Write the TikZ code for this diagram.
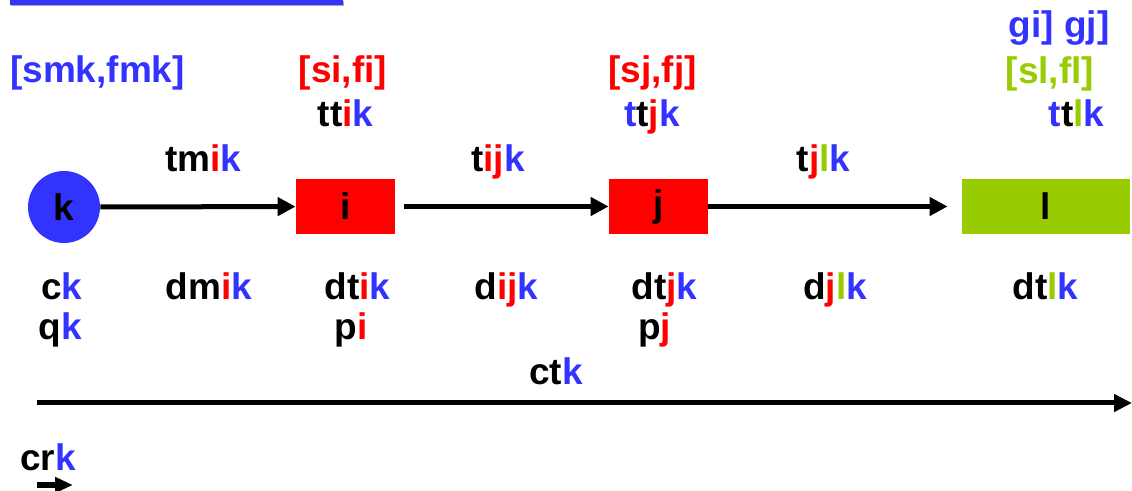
\documentclass[tikz,border=0pt]{standalone}
\usepackage{fontspec}
\setmainfont{Liberation Sans}
\usetikzlibrary{arrows.meta}
\definecolor{kb}{RGB}{51,51,255}
\definecolor{ir}{RGB}{255,0,0}
\definecolor{lg}{RGB}{153,204,0}
\definecolor{shd}{RGB}{170,170,170}
\newcommand\cB[1]{\textcolor{kb}{#1}}
\newcommand\cR[1]{\textcolor{ir}{#1}}
\newcommand\cG[1]{\textcolor{lg}{#1}}
\tikzset{
  lbl/.style={inner sep=0pt, anchor=base, font=\fontsize{18.5}{20}\selectfont\bfseries},
  actbox/.style={draw=none, minimum width=49.5pt, minimum height=27.5pt, inner sep=0pt, font=\fontsize{18.5}{20}\selectfont\bfseries},
  conn/.style={line width=2.5pt, -{Triangle[length=9pt,width=9pt]}},
}
\begin{document}
\begin{tikzpicture}[x=0.5pt,y=-0.5pt]
\useasboundingbox (0,0) rectangle (1132,491);
% top underline
\fill[shd] (11,1) rectangle (344,6);
\fill[kb] (10,0) rectangle (343,5);
% nodes
\node[circle, fill=kb, minimum size=36pt, inner sep=0pt, font=\fontsize{18.5}{20}\selectfont\bfseries] (k) at (64,207) {k};
\node[actbox, fill=ir] (i) at (345.5,206.5) {i};
\node[actbox, fill=ir] (j) at (658.5,206.5) {j};
\node[actbox, fill=lg, minimum width=84pt] (l) at (1046,206.5) {l};
% connectors
\draw[conn] (k) -- (i);
\draw[conn, shorten <=4.5pt] (i) -- (j);
\draw[conn, shorten >=7pt] (j) -- (l);
% labels above
\node[lbl, text=kb] (smk) at (97.5,83) {[smk,fmk]};
\node[lbl, text=ir] (sifi) at (343,83) {[si,fi]};
\node[lbl, text=ir] (sjfj) at (652.5,83) {[sj,fj]};
\node[lbl, text=lg] (slfl) at (1050,84) {[sl,fl]};
\node[lbl, text=kb] (gigj) at (1059,38) {gi] gj]};
\node[lbl] (ttik) at (345.5,127) {tt\cR{i}\cB{k}};
\node[lbl] (ttjk) at (652,127) {\cB{t}t\cR{j}\cB{k}};
\node[lbl] (ttlk) at (1076.5,127) {\cB{t}t\cG{l}\cB{k}};
\node[lbl] (tmik) at (203.5,172) {tm\cR{i}\cB{k}};
\node[lbl] (tijk) at (498,172) {t\cR{ij}\cB{k}};
\node[lbl] (tjlk) at (823.5,172) {t\cR{j}\cG{l}\cB{k}};
% labels below
\node[lbl] (ck) at (62,300) {c\cB{k}};
\node[lbl] (qk) at (60,340) {q\cB{k}};
\node[lbl] (dmik) at (209,300) {dm\cR{i}\cB{k}};
\node[lbl] (dtik) at (357.5,300) {dt\cR{i}\cB{k}};
\node[lbl] (pi) at (351,340) {p\cR{i}};
\node[lbl] (dijk) at (506.5,300) {d\cR{ij}\cB{k}};
\node[lbl] (dtjk) at (664.5,300) {dt\cR{j}\cB{k}};
\node[lbl] (pj) at (654.5,340) {p\cR{j}};
\node[lbl] (djlk) at (835,300) {d\cR{j}\cG{l}\cB{k}};
\node[lbl] (dtlk) at (1045.5,300) {dt\cG{l}\cB{k}};
\node[lbl] (ctk) at (556,385) {ct\cB{k}};
\node[lbl] (crk) at (48,471) {cr\cB{k}};
% time axis
\coordinate (ctS) at (37,403);
\coordinate (ctE) at (1132,403);
\draw[line width=2.5pt, -{Triangle[length=9pt,width=8.5pt]}] (ctS) -- (ctE);
\coordinate (crS) at (37,485);
\coordinate (crE) at (73,485);
\draw[line width=3pt, -{Triangle[length=9pt,width=7.5pt]}] (crS) -- (crE);
\end{tikzpicture}
\end{document}
